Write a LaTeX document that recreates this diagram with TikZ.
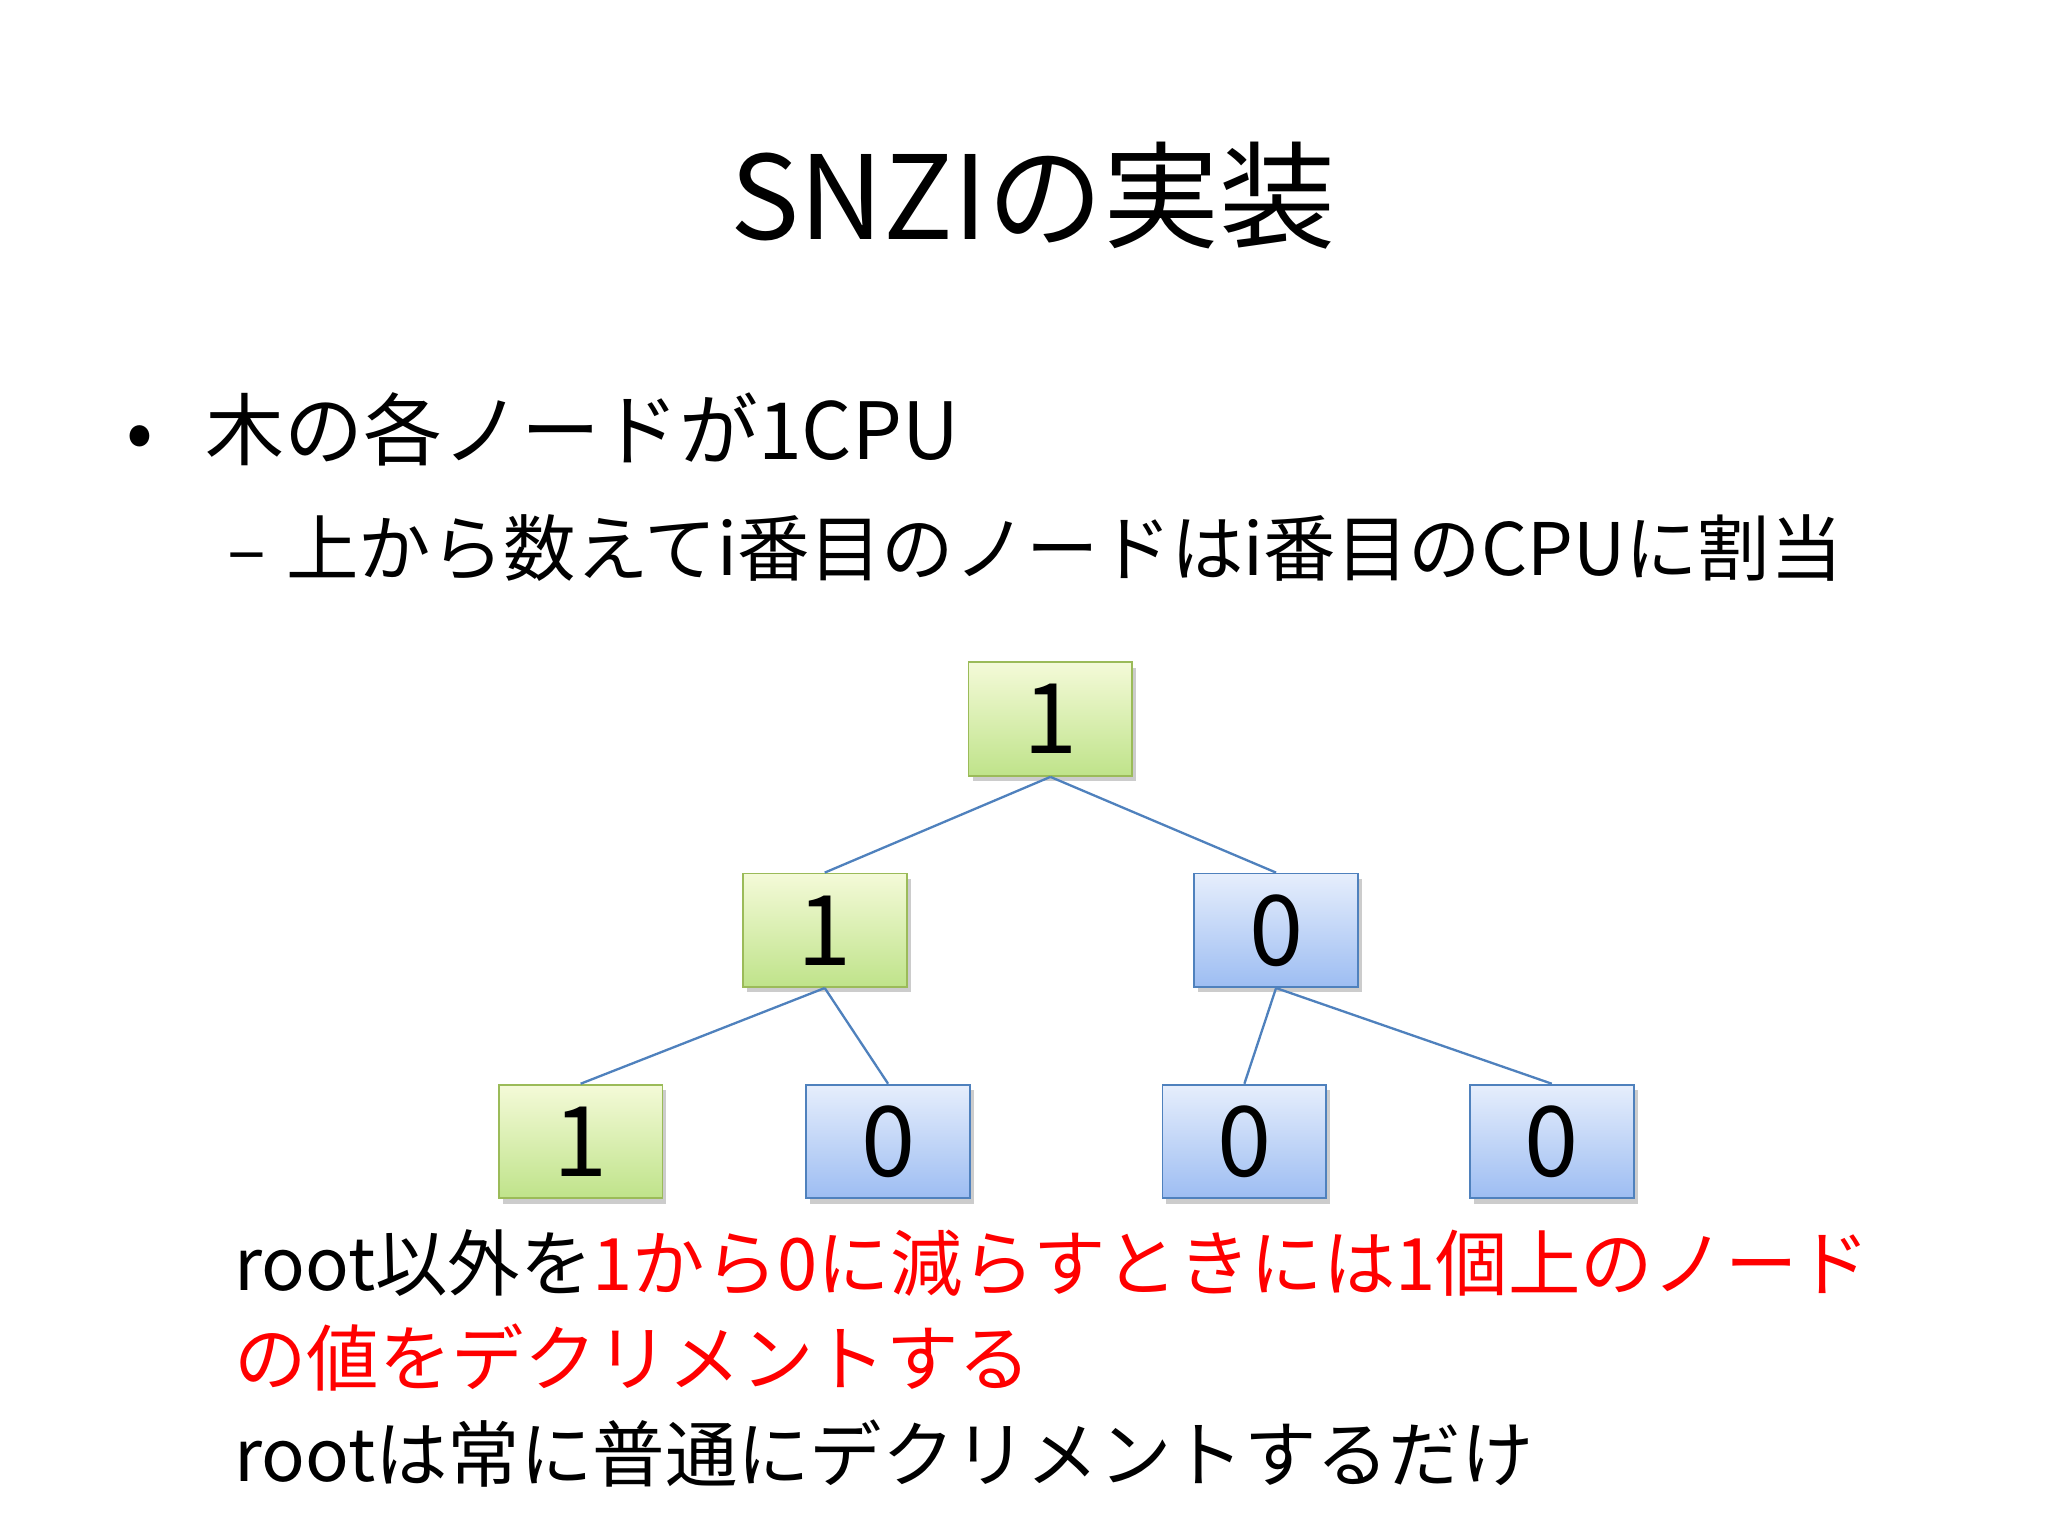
\documentclass[tikz,border=0pt]{standalone}
\usepackage{fontspec}
\setmainfont{Noto Sans CJK JP}
\usetikzlibrary{shadows}
\definecolor{gb}{HTML}{9BBB59}
\definecolor{bb}{HTML}{4F81BD}
\definecolor{gtop}{HTML}{F4FAD8}
\definecolor{gbot}{HTML}{BFE38A}
\definecolor{btop}{HTML}{E6EEFC}
\definecolor{bbot}{HTML}{9DBDF2}
\tikzset{
 cell/.style={minimum width=1.24cm,minimum height=0.86cm,inner sep=0pt,font=\fontsize{21}{21}\selectfont,drop shadow={shadow xshift=0.3mm,shadow yshift=-0.4mm,opacity=0.4}},
 gcell/.style={cell,draw=gb,top color=gtop,bottom color=gbot},
 bcell/.style={cell,draw=bb,top color=btop,bottom color=bbot},
 edge/.style={draw=bb,line width=0.5pt},
 txt/.style={anchor=base west,inner sep=0pt}
}
\begin{document}
\begin{tikzpicture}[x=0.01cm,y=-0.01cm]
\useasboundingbox (0,0) rectangle (1552,1164);
\node[font=\fontsize{25}{25}\selectfont] (title) at (783,148) {SNZIの実装};
\node[txt,font=\fontsize{17}{17}\selectfont] (b1) at (95,348) {•\hspace{0.4cm}木の各ノードが1CPU};
\node[txt,font=\fontsize{15.6}{15.6}\selectfont] (b2) at (172,436) {–\hspace{0.15cm}上から数えてi番目のノードはi番目のCPUに割当};
\node[gcell] (r) at (796,545) {1};
\node[gcell] (a) at (625,705) {1};
\node[bcell] (b) at (967,705) {0};
\node[gcell] (c) at (440,865) {1};
\node[bcell] (d) at (673,865) {0};
\node[bcell] (e) at (943,865) {0};
\node[bcell] (f) at (1176,865) {0};
\draw[edge] (r.south) -- (a.north);
\draw[edge] (r.south) -- (b.north);
\draw[edge] (a.south) -- (c.north);
\draw[edge] (a.south) -- (d.north);
\draw[edge] (b.south) -- (e.north);
\draw[edge] (b.south) -- (f.north);
\node[txt,font=\fontsize{15.6}{15.6}\selectfont] (t1) at (177,978) {root以外を\textcolor{red}{1から0に減らすときには1個上のノード}};
\node[txt,font=\fontsize{15.6}{15.6}\selectfont,text=red] (t2) at (177,1050) {の値をデクリメントする};
\node[txt,font=\fontsize{15.6}{15.6}\selectfont] (t3) at (177,1123) {rootは常に普通にデクリメントするだけ};
\end{tikzpicture}
\end{document}
